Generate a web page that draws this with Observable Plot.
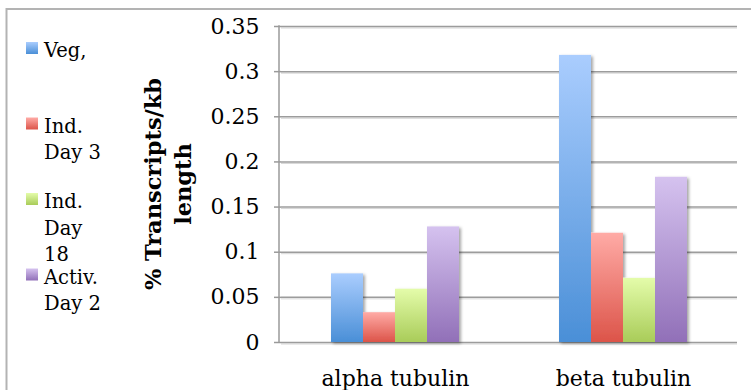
<!DOCTYPE html>
<html>
<head>
<meta charset="utf-8">
<script src="https://cdn.jsdelivr.net/npm/d3@7"></script>
<script src="https://cdn.jsdelivr.net/npm/@observablehq/plot@0.6"></script>
<style>
  body { margin: 0; background: #fff; }
  #chart svg { display: block; }
  #chart g[aria-label^="y-axis"] line,
  #chart g[aria-label^="y-axis"] path { stroke: #9a9a9a; stroke-width: 1.5; }
</style>
</head>
<body>
<div id="chart"></div>
<script>
// Genes on the x axis and the four sample conditions
const genes = ["alpha tubulin", "beta tubulin"];
const series = ["Veg,", "Ind. Day 3", "Ind. Day 18", "Activ. Day 2"];
const seriesLines = [["Veg,"], ["Ind.", "Day 3"], ["Ind.", "Day", "18"], ["Activ.", "Day 2"]];

// % transcripts per kb length, one value per condition
const alphaValues = [0.076, 0.033, 0.059, 0.128];
const betaValues = [0.318, 0.121, 0.071, 0.183];

// Y axis ticks and their labels
const yTicks = [0, 0.05, 0.1, 0.15, 0.2, 0.25, 0.3, 0.35];
const yTickLabels = ["0", "0.05", "0.1", "0.15", "0.2", "0.25", "0.3", "0.35"];
const yTitle = ["% Transcripts/kb", "length"];

// Top and bottom colours of each condition's gradient fill
const gradientStops = [
  ["#aacdfe", "#4a8fd7"],
  ["#ffaba6", "#dc5449"],
  ["#e4fcaa", "#a9cc59"],
  ["#d5c2ef", "#9170b8"]
];

const valuesByGene = [alphaValues, betaValues];
const rows = genes.flatMap((gene, i) =>
  series.map((s, j) => ({gene, series: s, value: valuesByGene[i][j]}))
);

const chart = Plot.plot({
  width: 751,
  height: 390,
  marginLeft: 280,
  marginRight: 14,
  marginTop: 26,
  marginBottom: 48,
  style: {fontFamily: "'DejaVu Serif', serif", fontSize: "22px", background: "white", color: "black"},
  facet: {data: rows, x: "gene"},
  fx: {domain: genes, padding: 0, axis: "bottom", label: null, tickSize: 0, tickPadding: 28},
  x: {domain: series, paddingInner: 0, paddingOuter: 1.46, axis: null},
  y: {
    domain: [0, 0.35],
    ticks: yTicks,
    tickFormat: d => yTickLabels[yTicks.indexOf(d)] ?? String(d),
    tickSize: 7,
    tickPadding: 15,
    label: null
  },
  color: {type: "ordinal", domain: series, range: series.map((s, i) => `url(#cond-grad-${i})`)},
  marks: [
    // gridlines repeat across both gene panels
    Plot.ruleY(yTicks, {stroke: "#d6d6d6", strokeWidth: 1, dy: 1.5, facet: false}),
    Plot.ruleY(yTicks, {stroke: "#9c9c9c", strokeWidth: 1.5, facet: false}),
    Plot.barY(rows, {x: "series", y: "value", fill: "series"})
  ]
});

const svg = d3.select(chart);
const yScale = chart.scale("y");
const left = 280;

// Gradients and bar shadow
const defs = svg.insert("defs", ":first-child");
gradientStops.forEach(([top, bottom], i) => {
  const g = defs.append("linearGradient")
    .attr("id", `cond-grad-${i}`)
    .attr("x1", 0).attr("y1", 0).attr("x2", 0).attr("y2", 1);
  g.append("stop").attr("offset", "0%").attr("stop-color", top);
  g.append("stop").attr("offset", "100%").attr("stop-color", bottom);
});
const shadow = defs.append("filter").attr("id", "bar-shadow")
  .attr("x", "-10%").attr("y", "-10%").attr("width", "130%").attr("height", "130%");
shadow.append("feDropShadow")
  .attr("dx", 2).attr("dy", 1.5).attr("stdDeviation", 1.8)
  .attr("flood-color", "#000").attr("flood-opacity", 0.35);
svg.selectAll('g[aria-label="bar"]').attr("filter", "url(#bar-shadow)");

// Chart area border (left and top edges)
svg.insert("path", "defs + *")
  .attr("d", "M6.5,392V9H752")
  .attr("fill", "none")
  .attr("stroke", "#b3b3b3")
  .attr("stroke-width", 2);

// Vertical axis line
svg.append("line")
  .attr("x1", left - 1).attr("x2", left - 1)
  .attr("y1", yScale.apply(0) + 0.75).attr("y2", yScale.apply(0.35) - 0.75)
  .attr("stroke", "#9a9a9a")
  .attr("stroke-width", 1.5);

// Axis title, two lines rotated
const yMid = (yScale.apply(0) + yScale.apply(0.35)) / 2;
const title = svg.append("text")
  .attr("transform", `translate(161,${yMid}) rotate(-90)`)
  .attr("text-anchor", "middle")
  .attr("font-family", "'DejaVu Serif', serif")
  .attr("font-weight", "bold")
  .attr("font-size", "22.5px")
  .attr("fill", "black");
yTitle.forEach((line, i) => {
  title.append("tspan").attr("x", 0).attr("y", i * 30).text(line);
});

// Legend
const legend = svg.append("g")
  .attr("font-family", "'DejaVu Serif', serif")
  .attr("font-size", "19.5px")
  .attr("text-anchor", "start")
  .attr("fill", "black");
seriesLines.forEach((lines, i) => {
  const baseline = 57 + i * 75.5;
  legend.append("rect")
    .attr("x", 26).attr("y", baseline - 15)
    .attr("width", 12).attr("height", 12)
    .attr("fill", `url(#cond-grad-${i})`);
  const t = legend.append("text");
  lines.forEach((line, k) => {
    t.append("tspan").attr("x", 44).attr("y", baseline + k * 26.5).text(line);
  });
});

document.getElementById("chart").append(chart);
</script>
</body>
</html>
